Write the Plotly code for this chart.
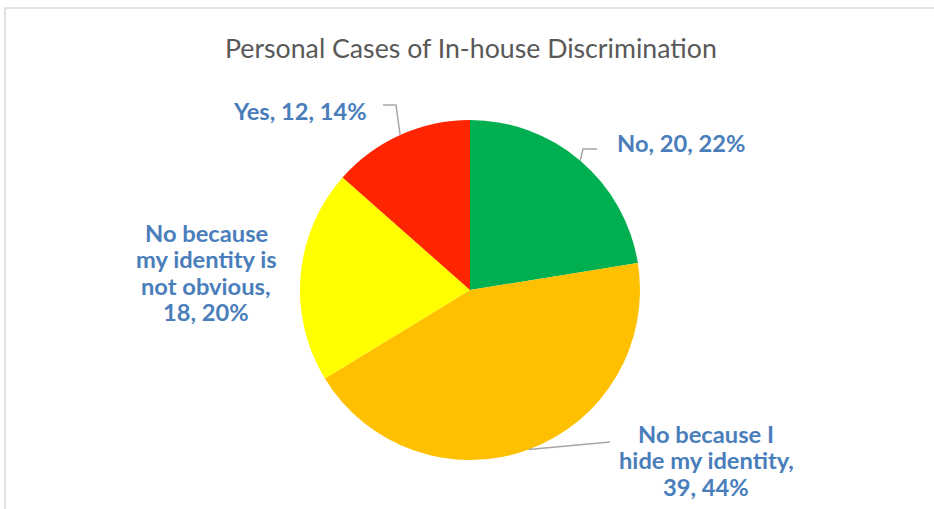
import math
import plotly.graph_objects as go

categories = ["No", "No because I hide my identity", "No because my identity is not obvious", "Yes"]
values = [20, 39, 18, 12]
label_lines = [
    ["No, 20, 22%"],
    ["No because I", "hide my identity,", "39, 44%"],
    ["No because", "my identity is", "not obvious,", "18, 20%"],
    ["Yes, 12, 14%"],
]
colors = ["#00B050", "#FFC000", "#FFFF00", "#FF2500"]

W, H = 934, 509
CX, CY, R = 470, 290, 170

def px(x):
    return x / W

def py(y):
    return 1 - y / H

fig = go.Figure()
fig.add_trace(go.Pie(
    labels=categories, values=values, sort=False, direction="clockwise", rotation=0,
    marker=dict(colors=colors, line=dict(width=0)),
    textinfo="none", hoverinfo="label+value+percent", showlegend=False,
    domain=dict(x=[px(CX - R), px(CX + R)], y=[py(CY + R), py(CY - R)]),
))

# mid-angles of each slice (clockwise from top)
total = sum(values)
mids = []
acc = 0
for v in values:
    mids.append((acc + v / 2) / total * 2 * math.pi)
    acc += v

def edge(i):
    a = mids[i]
    return CX + R * math.sin(a), CY - R * math.cos(a)

# label anchor settings: (x, first-line y, xanchor)
label_pos = [
    (615, 143, "left"),
    (706, 434, "center"),
    (206, 233, "center"),
    (369, 111, "right"),
]
LINE_H = 26.3
annotations = [dict(
    text="Personal Cases of In-house Discrimination", x=px(471), y=py(48),
    xref="paper", yref="paper", showarrow=False, xanchor="center", yanchor="middle",
    font=dict(family="Lato", size=26.7, color="#595959"))]
for i, (x, y, xa) in enumerate(label_pos):
    for j, line in enumerate(label_lines[i]):
        annotations.append(dict(
            text="<b>" + line + "</b>", x=px(x), y=py(y + j * LINE_H), xref="paper", yref="paper",
            showarrow=False, xanchor=xa, yanchor="middle",
            font=dict(family="Lato", size=23.7, color="#4A7EBB")))

# leader lines (elbow start points next to the labels)
line_starts = {
    0: [(597, 149), (583, 149)],
    1: [(610, 442)],
    3: [(383, 105), (396, 105)],
}
shapes = []
for i, pts in line_starts.items():
    ex, ey = edge(i)
    all_pts = pts + [(ex, ey)]
    path = "M " + " L ".join(f"{px(a)},{py(b)}" for a, b in all_pts)
    shapes.append(dict(type="path", path=path, xref="paper", yref="paper",
                       line=dict(color="#A6A6A6", width=1.5)))

# chart frame
shapes.append(dict(type="rect", xref="paper", yref="paper",
                   x0=px(5), y0=py(520), x1=px(945), y1=py(8),
                   line=dict(color="#D9D9D9", width=1.5)))

fig.update_layout(
    width=W, height=H, margin=dict(l=0, r=0, t=0, b=0),
    paper_bgcolor="white", plot_bgcolor="white",
    annotations=annotations, shapes=shapes,
)

fig.write_html("out.html", config={"displayModeBar": False},
               post_script="document.body.style.margin='0';document.body.style.overflow='hidden';")
